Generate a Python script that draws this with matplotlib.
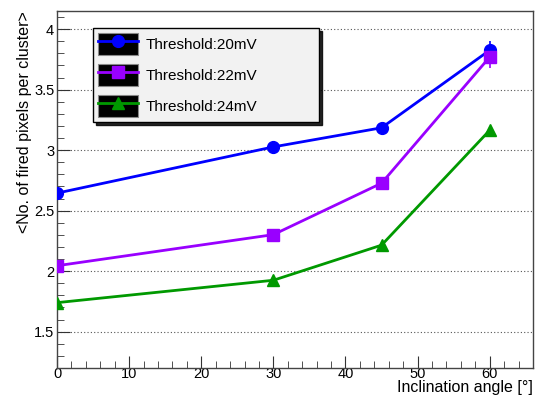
import numpy as np
import matplotlib
matplotlib.use('Agg')
import matplotlib.pyplot as plt
from matplotlib.patches import Rectangle
from matplotlib.ticker import MultipleLocator, FormatStrFormatter

plt.rcParams['font.family'] = ['Liberation Sans', 'DejaVu Sans']

# Data
angles = [0, 30, 45, 60]
th20 = [2.645, 3.027, 3.185, 3.826]
th22 = [2.045, 2.302, 2.727, 3.770]
th24 = [1.740, 1.925, 2.215, 3.165]
err20 = [0.01, 0.01, 0.01, 0.08]
err22 = [0.01, 0.01, 0.01, 0.09]
err24 = [0.01, 0.01, 0.01, 0.03]
labels = ['Threshold:20mV', 'Threshold:22mV', 'Threshold:24mV']

fig = plt.figure(figsize=(5.36, 3.95), dpi=100)
ax = fig.add_axes([57 / 536, 1 - 368 / 395, 476 / 536, 357 / 395])

styles = [(th20, err20, '#0000ff', 'o', 8.5),
          (th22, err22, '#9900ff', 's', 8),
          (th24, err24, '#009900', '^', 8.5)]

handles = []
for (vals, errs, col, mk, ms), lab in zip(styles, labels):
    ax.errorbar(angles, vals, yerr=errs, color=col, lw=2, marker=mk, ms=ms,
                elinewidth=1.2, capsize=0, zorder=3)
    line = plt.Line2D([], [], color=col, lw=2, marker=mk, ms=ms)
    box = Rectangle((0, 0), 1, 1, facecolor='black', edgecolor='#888888', lw=0.8)
    handles.append((box, line))

ax.set_xlim(0, 66)
ax.set_ylim(1.2, 4.15)
ax.xaxis.set_major_locator(MultipleLocator(10))
ax.xaxis.set_minor_locator(MultipleLocator(2))
ax.yaxis.set_major_locator(MultipleLocator(0.5))
ax.yaxis.set_minor_locator(MultipleLocator(0.1))
ax.yaxis.set_major_formatter(FormatStrFormatter('%g'))
ax.tick_params(which='both', direction='in', top=False, right=False,
               labelsize=10.5, color='#333333')
ax.tick_params(which='major', length=9)
ax.tick_params(which='minor', length=5)
ax.tick_params(axis='x', pad=-1)
ax.tick_params(axis='y', pad=2)
ax.yaxis.grid(True, which='major', ls=(0, (1, 2)), color='#555555', lw=0.8)
for s in ax.spines.values():
    s.set_color('#444444')
    s.set_linewidth(1)

ax.set_xlabel('Inclination angle [°]', fontsize=11.5, ha='right', va='top')
ax.xaxis.set_label_coords(1.0, -12 / 357)
ax.set_ylabel('<No. of fired pixels per cluster>', fontsize=11.5, ha='right',
              va='center')
ax.yaxis.set_label_coords(-32 / 476, 1.0)

leg = ax.legend(handles, labels, loc='upper left', mode='expand',
                bbox_to_anchor=(36 / 476, 1 - 17 / 357, 226 / 476, 0),
                fontsize=11, handlelength=2.6, handleheight=1.83,
                handletextpad=0.52, labelspacing=0.59, borderpad=0.35,
                fancybox=False, framealpha=1,
                shadow={'color': 'black', 'alpha': 0.85}, borderaxespad=0)
leg.get_frame().set_facecolor('#f2f2f2')
leg.get_frame().set_edgecolor('black')
leg.get_frame().set_linewidth(1)

fig.savefig('out.png', dpi=100)
